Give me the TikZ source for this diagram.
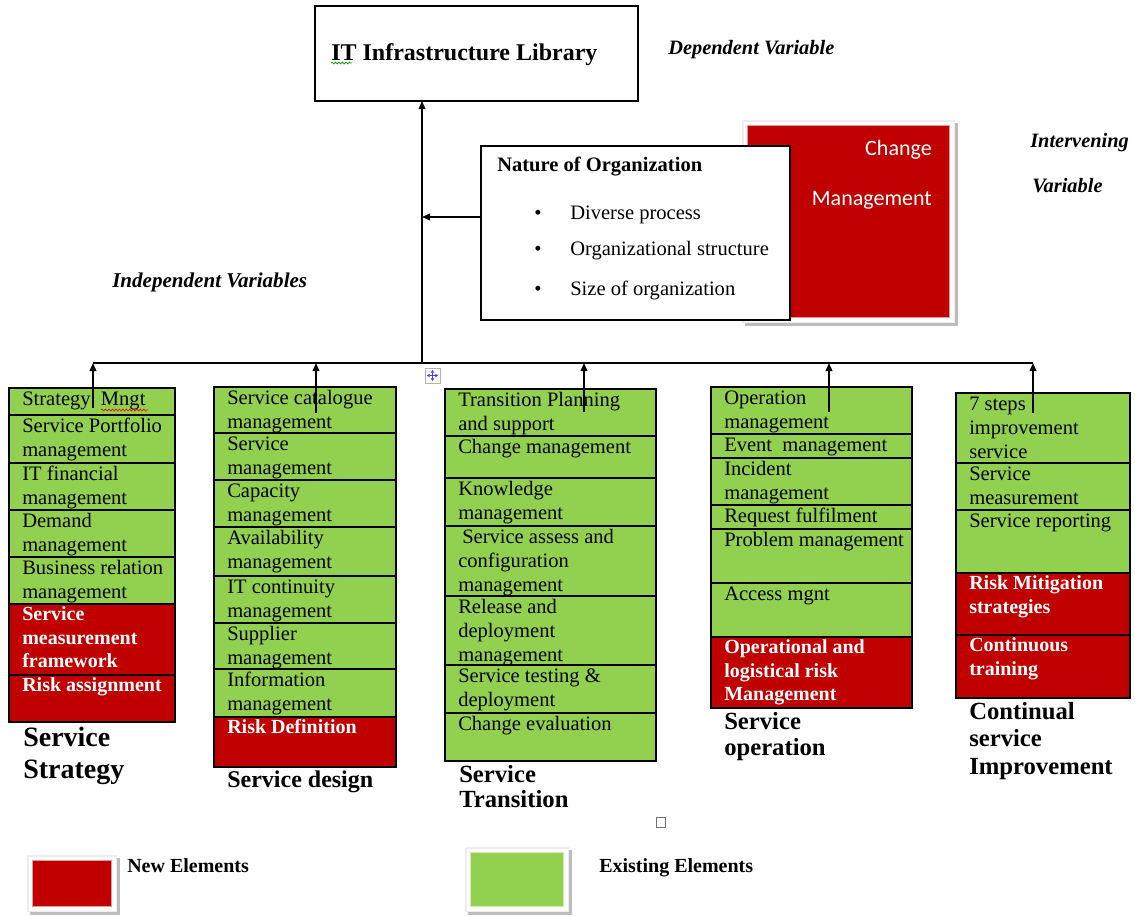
\documentclass[tikz,border=0pt]{standalone}
\usepackage{fontspec}
\setmainfont{Liberation Serif}
\newfontfamily\calibfont{Carlito}
\usetikzlibrary{arrows.meta,decorations.pathmorphing}
\definecolor{existfill}{HTML}{92D050}
\definecolor{newfill}{HTML}{C00000}

% one table cell: name, left, top, right, bottom, kind (oldcell/newcell), text
\newcommand\itemcell[7]{%
  \node[cellframe,#6,minimum width={(#4-(#2))*0.75pt},minimum height={(#5-(#3))*0.75pt}] (#1) at (#2,#3) {};
  \node[celltext,#6text] (#1-t) at (#2,#3) {\strut#7};}

% a coloured swatch in a white picture frame with a soft drop shadow:
% name, left, top, right, bottom (outer frame), colour
\newcommand\framedswatch[6]{%
  \fill[black!26] (#2+3,#3+3) rectangle (#4+3,#5+3);
  \fill[black!7] (#2,#3) rectangle (#4,#5);
  \fill[white] (#2+1.5,#3+1.5) rectangle (#4-1.5,#5-1.5);
  \node[draw=#6!40!white,line width=0.6pt,fill=#6,inner sep=0pt,outer sep=0pt,anchor=north west,
    minimum width={(#4-(#2)-11)*0.75pt},minimum height={(#5-(#3)-11)*0.75pt}] (#1) at (#2+5.5,#3+5.5) {};}

\begin{document}
\begin{tikzpicture}[x=0.75pt,y=-0.75pt,
  cellframe/.style={draw=black,line width=1.1pt,inner sep=0pt,outer sep=0pt,anchor=north west},
  oldcell/.style={fill=existfill},
  newcell/.style={fill=newfill},
  celltext/.style={anchor=north west,inner xsep=9.75pt,inner ysep=0pt,align=left,
    font=\fontsize{15.4}{18}\selectfont},
  oldcelltext/.style={text=black},
  newcelltext/.style={text=white,font=\fontsize{15}{17.6}\selectfont\bfseries},
  boxframe/.style={draw=black,line width=1.1pt,fill=white,inner sep=0pt,outer sep=0pt,anchor=north west},
  varlabel/.style={anchor=base west,inner sep=0pt,font=\fontsize{15.3}{18}\selectfont\bfseries\itshape},
  plain/.style={anchor=base west,inner sep=0pt,font=\fontsize{15.4}{18}\selectfont},
  collabel/.style={anchor=north west,inner sep=0pt,align=left},
  link/.style={line width=1pt,-{Triangle[length=6pt,width=5pt]}},
  squiggle/.style={decorate,decoration={snake,amplitude=0.7pt,segment length=2.6pt},line width=0.5pt}
]
\useasboundingbox (0,0) rectangle (1135,915);

% ---------- dependent variable ----------
\node[boxframe,minimum width=242.25pt,minimum height=71.25pt] (itil) at (315,6) {};
\node[anchor=base west,inner sep=0pt,font=\fontsize{18}{21}\selectfont\bfseries] (itil-t) at (331,60) {IT Infrastructure Library};
\draw[squiggle,green!60!black] (331,63) -- (352,63);
\node[varlabel] (dep) at (668,54) {Dependent Variable};

% ---------- intervening variable ----------
\framedswatch{chg}{742}{120}{955}{323}{newfill}
\node[anchor=base east,inner sep=0pt,text=white,font=\calibfont\fontsize{16.5}{20}\selectfont] (chg-1) at (932,155) {Change};
\node[anchor=base east,inner sep=0pt,text=white,font=\calibfont\fontsize{16.5}{20}\selectfont] (chg-2) at (932,205) {Management};
\node[varlabel] (int1) at (1030,147) {Intervening};
\node[varlabel] (int2) at (1032,192) {Variable};

\node[boxframe,minimum width=231.75pt,minimum height=130.5pt] (nature) at (481,146) {};
\node[anchor=base west,inner sep=0pt,font=\fontsize{15.4}{18}\selectfont\bfseries] (nature-t) at (497,171) {Nature of Organization};
\node[plain] (b1) at (534,219) {\textbullet};
\node[plain] (b2) at (534,255) {\textbullet};
\node[plain] (b3) at (534,295) {\textbullet};
\node[plain] (n1) at (570,219) {Diverse process};
\node[plain] (n2) at (570,255) {Organizational structure};
\node[plain] (n3) at (570,295) {Size of organization};

\node[varlabel,font=\fontsize{15.8}{18}\selectfont\bfseries\itshape] (indep) at (112,287) {Independent Variables};

% ---------- trunk and branches ----------
\coordinate (trunk) at (422,363);
\coordinate (barL) at (93,363);
\coordinate (barR) at (1033,363);
\draw[link] (trunk) -- (itil.south -| trunk);
\coordinate (natout) at ([yshift=-53.25pt]nature.north west);
\draw[link] (natout) -- (natout -| trunk);
\draw[line width=1pt] (barL) -- (barR);

% ---------- Service Strategy ----------
\itemcell{s1}{9}{388}{175}{415}{oldcell}{Strategy \ Mngt}
\itemcell{s2}{9}{415}{175}{463}{oldcell}{Service Portfolio\\management}
\itemcell{s3}{9}{463}{175}{510}{oldcell}{IT financial\\management}
\itemcell{s4}{9}{510}{175}{557}{oldcell}{Demand\\management}
\itemcell{s5}{9}{557}{175}{604}{oldcell}{Business relation\\management}
\itemcell{s6}{9}{604}{175}{675}{newcell}{Service\\measurement\\framework}
\itemcell{s7}{9}{675}{175}{722}{newcell}{Risk assignment}
\draw[squiggle,red] (101,410) -- (148,410);
\node[collabel,font=\fontsize{21}{24}\selectfont\bfseries] (lab1) at (23,723.6) {\strut Service\\Strategy};

% ---------- Service design ----------
\itemcell{d1}{214}{387}{396}{433}{oldcell}{Service catalogue\\management}
\itemcell{d2}{214}{433}{396}{480}{oldcell}{Service\\management}
\itemcell{d3}{214}{480}{396}{527}{oldcell}{Capacity\\management}
\itemcell{d4}{214}{527}{396}{576}{oldcell}{Availability\\management}
\itemcell{d5}{214}{576}{396}{623}{oldcell}{IT continuity\\management}
\itemcell{d6}{214}{623}{396}{669}{oldcell}{Supplier\\management}
\itemcell{d7}{214}{669}{396}{717}{oldcell}{Information\\management}
\itemcell{d8}{214}{717}{396}{767}{newcell}{Risk Definition}
\node[collabel,font=\fontsize{18}{20}\selectfont\bfseries] (lab2) at (227,768.3) {\strut Service design};

% ---------- Service Transition ----------
\itemcell{t1}{445}{389}{656}{436}{oldcell}{Transition Planning\\and support}
\itemcell{t2}{445}{436}{656}{478}{oldcell}{Change management}
\itemcell{t3}{445}{478}{656}{526}{oldcell}{Knowledge\\management}
\itemcell{t4}{445}{526}{656}{596}{oldcell}{\hspace{3pt}Service assess and\\configuration\\management}
\itemcell{t5}{445}{596}{656}{665}{oldcell}{Release and\\deployment\\management}
\itemcell{t6}{445}{665}{656}{713}{oldcell}{Service testing \&\\deployment}
\itemcell{t7}{445}{713}{656}{761}{oldcell}{Change evaluation}
\node[collabel,font=\fontsize{18.5}{18.75}\selectfont\bfseries] (lab3) at (459,764.5) {\strut Service\\Transition};

% ---------- Service operation ----------
\itemcell{o1}{711}{387}{912}{434}{oldcell}{Operation\\management}
\itemcell{o2}{711}{434}{912}{458}{oldcell}{Event \ management}
\itemcell{o3}{711}{458}{912}{505}{oldcell}{Incident\\management}
\itemcell{o4}{711}{505}{912}{529}{oldcell}{Request fulfilment}
\itemcell{o5}{711}{529}{912}{583}{oldcell}{Problem management}
\itemcell{o6}{711}{583}{912}{637}{oldcell}{Access mgnt}
\itemcell{o7}{711}{637}{912}{708}{newcell}{Operational and\\logistical risk\\Management}
\node[collabel,font=\fontsize{18.5}{19.5}\selectfont\bfseries] (lab4) at (724,711) {\strut Service\\operation};

% ---------- Continual service Improvement ----------
\itemcell{c1}{956}{393}{1130}{463}{oldcell}{7 steps\\improvement\\service}
\itemcell{c2}{956}{463}{1130}{510}{oldcell}{Service\\measurement}
\itemcell{c3}{956}{510}{1130}{573}{oldcell}{Service reporting}
\itemcell{c4}{956}{573}{1130}{635}{newcell}{Risk Mitigation\\strategies}
\itemcell{c5}{956}{635}{1130}{698}{newcell}{Continuous\\training}
\node[collabel,font=\fontsize{18.5}{20.6}\selectfont\bfseries] (lab5) at (969,700) {\strut Continual\\service\\Improvement};

% ---------- arrows from each group up to the bar ----------
\coordinate (up1) at (93,408);
\coordinate (up2) at (316,413);
\coordinate (up3) at (584,412);
\coordinate (up4) at (829,412);
\coordinate (up5) at (1033,413);
\foreach \k in {1,...,5} {\draw[link] (up\k) -- (up\k |- barL);}

% ---------- small handles ----------
\draw[black!30,fill=white,line width=0.5pt] (425,368) rectangle (440,383);
\draw[blue!75,line width=0.6pt,{Triangle[length=2pt,width=2.4pt]}-{Triangle[length=2pt,width=2.4pt]}] (427,375.5) -- (438,375.5);
\draw[blue!75,line width=0.6pt,{Triangle[length=2pt,width=2.4pt]}-{Triangle[length=2pt,width=2.4pt]}] (432.5,370) -- (432.5,381);
\draw[black!55,line width=0.6pt] (656,817) rectangle (665,827);

% ---------- legend ----------
\framedswatch{keynew}{27}{855}{117}{912}{newfill}
\node[anchor=base west,inner sep=0pt,font=\fontsize{15}{18}\selectfont\bfseries] (keynew-t) at (127,872) {New Elements};
\framedswatch{keyold}{465}{847}{569}{912}{existfill}
\node[anchor=base west,inner sep=0pt,font=\fontsize{15}{18}\selectfont\bfseries] (keyold-t) at (599,872) {Existing Elements};
\end{tikzpicture}
\end{document}
